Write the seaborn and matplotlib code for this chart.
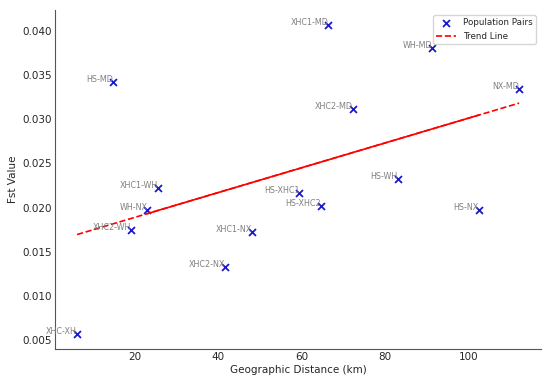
import numpy as np
import pandas as pd
import matplotlib
matplotlib.use("Agg")
import matplotlib.pyplot as plt
import seaborn as sns

# Pares de poblaciones
pairs = ["XHC1-MD", "WH-MD", "HS-MD", "NX-MD", "XHC2-MD", "XHC1-WH", "HS-XHC1",
         "HS-WH", "HS-XHC2", "WH-NX", "HS-NX", "XHC2-WH", "XHC1-NX", "XHC2-NX", "XHC-XH"]
distance = [66.4, 91.3, 14.9, 112.1, 72.4, 25.7, 59.5,
            83.1, 64.7, 23.1, 102.5, 19.3, 48.2, 41.8, 6.3]
fst = [0.0407, 0.0381, 0.0342, 0.0334, 0.0312, 0.0222, 0.0217,
       0.0232, 0.0202, 0.0197, 0.0197, 0.0174, 0.0172, 0.0133, 0.0057]

df = pd.DataFrame({"pair": pairs, "distance": distance, "fst": fst})

sns.set_style("white")
plt.rcParams['font.family'] = ['DejaVu Sans']

fig = plt.figure(figsize=(5.5, 3.84), dpi=100)
ax = fig.add_axes([0.1, 0.091, 0.884, 0.884])

sns.scatterplot(data=df, x="distance", y="fst", marker="x", color="#1a1acc",
                s=25, linewidth=1.3, label="Population Pairs", ax=ax)

# Linea de tendencia (ajuste lineal)
slope, intercept = np.polyfit(df["distance"], df["fst"], 1)
xs = np.array([df["distance"].min(), df["distance"].max()])
ax.plot(xs, slope * xs + intercept, color="red", linestyle="--", linewidth=1.2,
        label="Trend Line")
# en el original el tramo central se ve continuo
xd = np.sort(df["distance"].values)
xm = np.array([xd[3], xd[-2]])
ax.plot(xm, slope * xm + intercept, color="red", linewidth=1.2)

for _, row in df.iterrows():
    ax.text(row["distance"], row["fst"], row["pair"], fontsize=5.8, color="gray",
            ha="right", va="baseline")

ax.set_xlabel("Geographic Distance (km)", fontsize=7.5, labelpad=2)
ax.set_ylabel("Fst Value", fontsize=7.5, labelpad=3)
ax.tick_params(direction="in", labelsize=7.5, length=3, pad=2, color="#555555")
ax.set_yticks([0.005, 0.010, 0.015, 0.020, 0.025, 0.030, 0.035, 0.040])
ax.set_yticklabels(["0.005", "0.010", "0.015", "0.020", "0.025", "0.030", "0.035", "0.040"])
sns.despine(ax=ax)
for s in ["left", "bottom"]:
    ax.spines[s].set_color("#555555")

ax.legend(loc="upper right", fontsize=6.3, frameon=True, handlelength=2.2,
          borderaxespad=0.6)

plt.savefig("out.png", dpi=100)
